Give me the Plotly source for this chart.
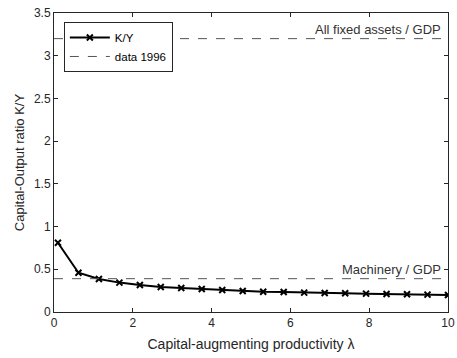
import plotly.graph_objects as go

lam = [0.1, 0.62, 1.14, 1.66, 2.18, 2.71, 3.23, 3.75, 4.27, 4.79, 5.31, 5.83,
       6.35, 6.87, 7.39, 7.92, 8.44, 8.96, 9.48, 10.0]
ky = [0.81, 0.46, 0.386, 0.344, 0.316, 0.292, 0.281, 0.269, 0.257, 0.246, 0.238,
      0.234, 0.227, 0.222, 0.219, 0.215, 0.21, 0.207, 0.203, 0.199]
data_levels = [3.2, 0.39]
data_labels = ["All fixed assets / GDP", "Machinery / GDP"]
x_range = [0, 10]
y_range = [0, 3.5]

fig = go.Figure()
fig.add_trace(go.Scatter(x=lam, y=ky, mode="lines+markers", name="K/Y",
                         line=dict(color="black", width=2),
                         marker=dict(symbol="x-thin", size=6, color="black",
                                     line=dict(width=2, color="black"))))
for i, lvl in enumerate(data_levels):
    fig.add_trace(go.Scatter(x=x_range, y=[lvl, lvl], mode="lines",
                             name="data 1996", showlegend=(i == 0),
                             line=dict(color="#555555", width=1, dash="dash")))
    fig.add_annotation(x=x_range[1], y=lvl, text=data_labels[i], showarrow=False,
                       xanchor="right", yanchor="bottom", xshift=-5, yshift=0,
                       font=dict(size=13, color="#333333"))

axis_common = dict(showline=True, linecolor="#262626", linewidth=1, mirror="ticks",
                   ticks="inside", ticklen=4, tickcolor="#262626",
                   showgrid=False, zeroline=False, automargin=False,
                   tickfont=dict(size=12, color="#262626"))
fig.update_xaxes(range=x_range, dtick=2, title=dict(text="Capital-augmenting productivity λ",
                 font=dict(size=14, color="#262626"), standoff=9), **axis_common)
fig.update_yaxes(range=y_range, dtick=0.5, title=dict(text="Capital-Output ratio K/Y",
                 font=dict(size=13, color="#262626"), standoff=6), **axis_common)

fig.update_layout(width=457, height=358, margin=dict(l=54, r=9, t=13, b=46),
                  paper_bgcolor="white", plot_bgcolor="white",
                  font=dict(family="Liberation Sans, Arial, sans-serif", color="#262626"),
                  legend=dict(x=0.025, y=0.97, xanchor="left", yanchor="top",
                              bgcolor="white", bordercolor="#262626", borderwidth=1,
                              font=dict(size=11.5, color="black"), tracegroupgap=0,
                              itemwidth=40))
fig.write_html("out.html", config={"displayModeBar": False},
               post_script="document.body.style.margin='0';")
